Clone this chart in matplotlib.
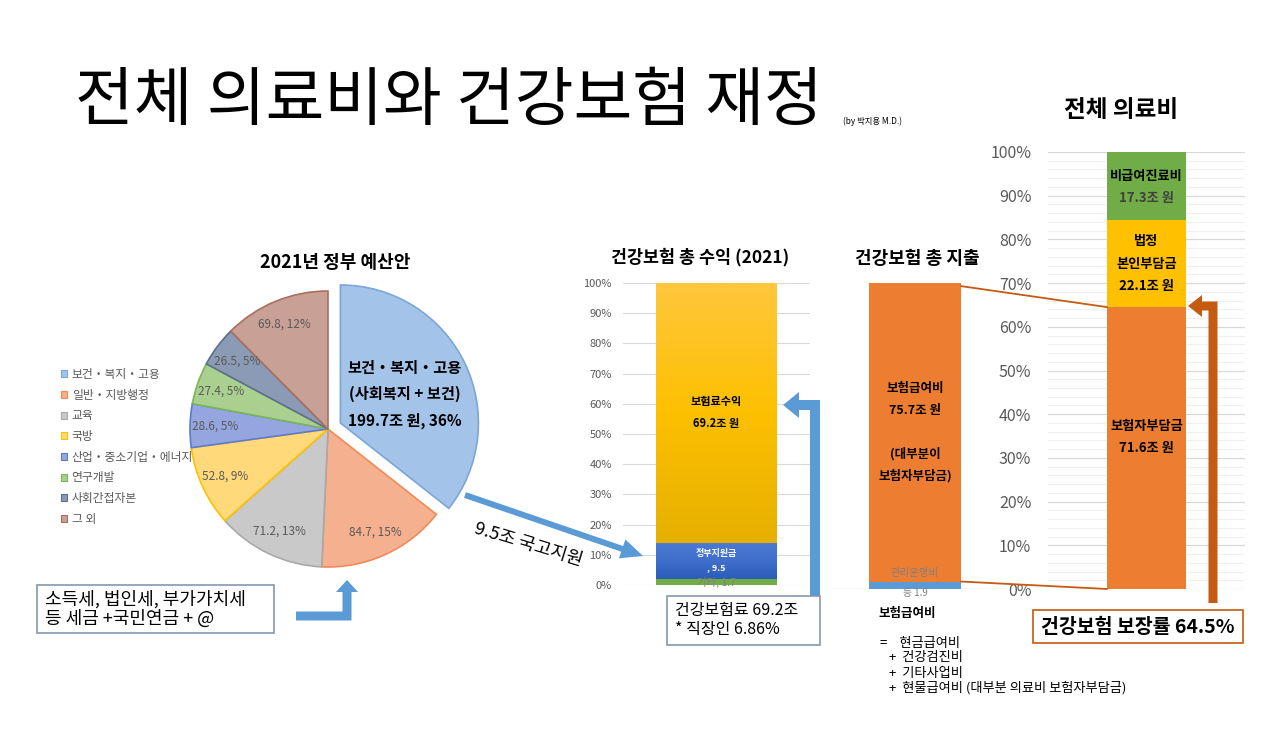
import matplotlib
matplotlib.use('Agg')
import matplotlib.pyplot as plt
import numpy as np
from matplotlib.patches import Polygon, Rectangle, ConnectionPatch, FancyArrow
from matplotlib.colors import LinearSegmentedColormap

plt.rcParams['font.family'] = ['Noto Sans CJK KR', 'DejaVu Sans']

# ---------------- data ----------------
budget_categories = ['보건・복지・고용', '일반・지방행정', '교육', '국방',
                     '산업・중소기업・에너지', '연구개발', '사회간접자본', '그 외']
budget_values = [199.7, 84.7, 71.2, 52.8, 28.6, 27.4, 26.5, 69.8]

revenue_categories = ['기타', '정부지원금', '보험료수익']
revenue_values = [1.7, 9.5, 69.2]

expend_categories = ['관리운영비 등', '보험급여비']
expend_values = [1.9, 75.7]

medical_categories = ['보험자부담금', '법정 본인부담금', '비급여진료비']
medical_values = [71.6, 22.1, 17.3]

pct_ticks = [0, 10, 20, 30, 40, 50, 60, 70, 80, 90, 100]

# ---------------- figure ----------------
W, H = 1268, 740
fig = plt.figure(figsize=(W / 100, H / 100), dpi=100)
fig.patch.set_facecolor('white')


def px_axes(x0, y0, x1, y1):
    return fig.add_axes([x0 / W, 1 - y1 / H, (x1 - x0) / W, (y1 - y0) / H])


def gradient_fill(ax, rect, colors):
    x, y = rect.get_x(), rect.get_y()
    w, h = rect.get_width(), rect.get_height()
    grad = np.linspace(0, 1, 256).reshape(-1, 1)
    cmap = LinearSegmentedColormap.from_list('g', colors)
    im = ax.imshow(grad, extent=[x, x + w, y, y + h], origin='lower', cmap=cmap,
                   aspect='auto', zorder=rect.get_zorder() + 0.1)
    im.set_clip_path(rect)


GRAY_TXT = '#595959'

# ---------------- pie ----------------
cx, cy, R = 328, 429, 138
axp = px_axes(cx - 1.25 * R, cy - 1.25 * R, cx + 1.25 * R, cy + 1.25 * R)
pie_face = ['#a4c3e8', '#f5b08f', '#c9c9c9', '#ffd97a', '#95a6df', '#a9d08e', '#8c9bb5', '#c8a096']
pie_edge = ['#7aa6d8', '#f08a58', '#a9a9a9', '#ffc000', '#5b7bd0', '#7cb55a', '#5d6f8d', '#a9705f']
explode = [0.1] + [0] * (len(budget_values) - 1)
wedges, _ = axp.pie(budget_values, colors=pie_face, startangle=90, counterclock=False,
                    explode=explode, radius=1, wedgeprops=dict(linewidth=1.2))
for w, ec in zip(wedges, pie_edge):
    w.set_edgecolor(ec)
axp.set_xlim(-1.25, 1.25)
axp.set_ylim(-1.25, 1.25)
axp.set_aspect('equal')
axp.set_axis_off()

total_budget = sum(budget_values)
for i, (w, v) in enumerate(zip(wedges, budget_values)):
    mid = np.deg2rad((w.theta1 + w.theta2) / 2)
    c0, c1 = w.center
    pct = round(v / total_budget * 100)
    if i == 0:
        r = 0.52
        axp.text(c0 + r * np.cos(mid), c1 + r * np.sin(mid) - 0.02,
                 f'보건・복지・고용\n(사회복지 + 보건)\n{v}조 원, {pct}%',
                 ha='center', va='center', fontsize=11, fontweight='bold',
                 linespacing=1.8, color='black')
    else:
        r = 0.82
        axp.text(c0 + r * np.cos(mid), c1 + r * np.sin(mid), f'{v}, {pct}%',
                 ha='center', va='center', fontsize=8.5, color=GRAY_TXT)

handles = [Rectangle((0, 0), 1, 1, facecolor=f, edgecolor=e, lw=0.8)
           for f, e in zip(pie_face, pie_edge)]
fig.legend(handles, budget_categories, loc='upper left',
           bbox_to_anchor=(60.5 / W, 1 - 368 / H), frameon=False, fontsize=8.5,
           labelcolor=GRAY_TXT, handlelength=0.55, handleheight=0.55,
           handletextpad=0.4, labelspacing=0.65, borderpad=0, borderaxespad=0)

# ---------------- revenue bar ----------------
axr = px_axes(623, 283, 810, 585)
rev_total = sum(revenue_values)
rev_pct = [v / rev_total * 100 for v in revenue_values]
rev_colors = ['#70ad47', '#3a69c6', '#fcc10e']
bottom = 0
rev_bars = []
for p, c in zip(rev_pct, rev_colors):
    b = axr.bar(0, p, bottom=bottom, width=0.647, color=c, zorder=2)[0]
    rev_bars.append(b)
    bottom += p
gradient_fill(axr, rev_bars[1], ['#2c5cba', '#3f6fcc', '#4a7ad2'])
gradient_fill(axr, rev_bars[2], ['#e6b000', '#fdc000', '#ffc73d'])
axr.set_xlim(-0.5, 0.5)
axr.set_ylim(0, 100)
axr.set_yticks(pct_ticks)
axr.set_yticklabels([f'{t}%' for t in pct_ticks])
axr.tick_params(axis='y', length=0, labelsize=8, labelcolor=GRAY_TXT, pad=8)
axr.set_xticks([])
axr.yaxis.grid(True, color='#d9d9d9', lw=0.8)
axr.set_axisbelow(True)
for s in axr.spines.values():
    s.set_visible(False)
b0, b1, b2 = rev_bars
axr.text(0, b2.get_y() + b2.get_height() / 2,
         f'{revenue_categories[2]}\n{revenue_values[2]}조 원', ha='center', va='center',
         fontsize=8, fontweight='bold', linespacing=1.9, zorder=5)
axr.text(0, b1.get_y() + b1.get_height() / 2,
         f'{revenue_categories[1]}\n, {revenue_values[1]}', ha='center', va='center',
         fontsize=6.5, fontweight='bold', color='white', linespacing=1.8, zorder=5)
axr.text(0, b0.get_y() + b0.get_height() / 2 - 0.3,
         f'{revenue_categories[0]}, {revenue_values[0]}', ha='center', va='center',
         fontsize=7.5, color='#7f7f7f', zorder=5)

# ---------------- expenditure bar (same scale as total medical) ----------------
med_total = sum(medical_values)
axe = px_axes(830, 152, 1003, 589)
exp_pct = [v / med_total * 100 for v in expend_values]
exp_colors = ['#5b9bd5', '#ed7d31']
bottom = 0
exp_bars = []
for p, c in zip(exp_pct, exp_colors):
    b = axe.bar(85, p, bottom=bottom, width=92, color=c, zorder=2)[0]
    exp_bars.append(b)
    bottom += p
axe.axhline(0, color='#d9d9d9', lw=1, zorder=1)
axe.set_xlim(0, 173)
axe.set_ylim(0, 100)
axe.set_axis_off()
eb0, eb1 = exp_bars
axe.text(85, eb1.get_y() + eb1.get_height() / 2,
         f'{expend_categories[1]}\n{expend_values[1]}조 원\n\n(대부분이\n보험자부담금)',
         ha='center', va='center', fontsize=9, fontweight='bold', linespacing=1.85, zorder=5)
axe.text(85, eb0.get_height() + 2.0, '관리운영비', ha='center', va='center',
         fontsize=7.5, color='#7f7f7f', zorder=5)
axe.text(85, -0.9, f'등 {expend_values[0]}', ha='center', va='center',
         fontsize=7, color='#7f7f7f', zorder=5, clip_on=False)

# ---------------- total medical expense bar ----------------
axm = px_axes(1048, 152, 1245, 589)
med_pct = [v / med_total * 100 for v in medical_values]
med_colors = ['#ed7d31', '#ffc000', '#70ad47']
bottom = 0
med_bars = []
for p, c in zip(med_pct, med_colors):
    b = axm.bar(0, p, bottom=bottom, width=0.40, color=c, zorder=2)[0]
    med_bars.append(b)
    bottom += p
axm.set_xlim(-0.5, 0.5)
axm.set_ylim(0, 100)
axm.set_yticks(pct_ticks)
axm.set_yticklabels([f'{t}%' for t in pct_ticks])
axm.set_yticks(np.arange(0, 101, 2), minor=True)
axm.tick_params(axis='y', which='both', length=0, labelsize=11.5, labelcolor=GRAY_TXT, pad=12)
axm.set_xticks([])
axm.yaxis.grid(True, which='minor', color='#f0f0f0', lw=0.8)
axm.yaxis.grid(True, which='major', color='#d9d9d9', lw=0.9)
axm.set_axisbelow(True)
for s in axm.spines.values():
    s.set_visible(False)
mb0, mb1, mb2 = med_bars
axm.text(0, mb0.get_y() + mb0.get_height() / 2 + 2.5,
         f'{medical_categories[0]}\n{medical_values[0]}조 원', ha='center', va='center',
         fontsize=9.5, fontweight='bold', linespacing=1.75, zorder=5)
axm.text(0, mb1.get_y() + mb1.get_height() / 2,
         f'법정\n본인부담금\n{medical_values[1]}조 원', ha='center', va='center',
         fontsize=9.5, fontweight='bold', linespacing=1.75, zorder=5)
axm.text(0, mb2.get_y() + mb2.get_height() / 2 + 2.2, medical_categories[2],
         ha='center', va='center', fontsize=9.5, fontweight='bold', zorder=5)
axm.text(0, mb2.get_y() + mb2.get_height() / 2 - 2.8, f'{medical_values[2]}조 원',
         ha='center', va='center', fontsize=9.5, fontweight='bold', color='#404040', zorder=5)

coverage = medical_values[0] / med_total * 100

# connector lines between expenditure bar and medical bar
for ya, yb in [(eb1.get_y() + eb1.get_height() - 0.6, mb0.get_height()),
               (eb0.get_height(), 0)]:
    con = ConnectionPatch(xyA=(eb1.get_x() + eb1.get_width(), ya), coordsA=axe.transData,
                          xyB=(mb0.get_x(), yb), coordsB=axm.transData,
                          color='#c55a11', lw=1.3, zorder=6)
    fig.add_artist(con)

# ---------------- overlay: titles, boxes, arrows ----------------
ov = fig.add_axes([0, 0, 1, 1])
ov.set_xlim(0, W)
ov.set_ylim(H, 0)
ov.set_axis_off()
ov.patch.set_alpha(0)

ov.text(75, 102, '전체 의료비와 건강보험 재정', fontsize=46, ha='left', va='center')
ov.text(843, 121, '(by 박지용 M.D.)', fontsize=6, ha='left', va='center')
ov.text(335, 262, '2021년 정부 예산안', fontsize=13, fontweight='bold', ha='center', va='center')
ov.text(700, 257, '건강보험 총 수익 (2021)', fontsize=12.5, fontweight='bold', ha='center', va='center')
ov.text(917, 258, '건강보험 총 지출', fontsize=13, fontweight='bold', ha='center', va='center')
ov.text(1121, 110, '전체 의료비', fontsize=17, fontweight='bold', ha='center', va='center')

BLUE = '#5b9bd5'
BROWN = '#c55a11'

# box: taxes
ov.add_patch(Rectangle((37, 585), 237, 48, facecolor='white', edgecolor='#8497b0', lw=1.2, zorder=3))
ov.text(45, 609, '소득세, 법인세, 부가가치세\n등 세금 +국민연금 + @', fontsize=13,
        ha='left', va='center', linespacing=1.1, zorder=4)

# elbow arrow right-then-up (taxes -> budget)
xv, yh, w_, hw = 347, 616, 9, 22
ov.add_patch(Polygon([(296, yh + w_ / 2), (xv + w_ / 2, yh + w_ / 2), (xv + w_ / 2, 592),
                      (xv + hw / 2, 592), (xv, 580), (xv - hw / 2, 592), (xv - w_ / 2, 592),
                      (xv - w_ / 2, yh - w_ / 2), (296, yh - w_ / 2)],
                     closed=True, facecolor=BLUE, edgecolor='none', zorder=3))

# diagonal arrow (health budget -> government subsidy)
ov.add_patch(FancyArrow(465, 495, 643 - 465, 556 - 495, width=6, head_width=20, head_length=22,
                        length_includes_head=True, facecolor=BLUE, edgecolor='none', zorder=3))
ov.text(528, 545, '9.5조 국고지원', fontsize=13, rotation=-17, ha='center', va='center',
        rotation_mode='anchor')


# elbow arrow up-then-left
def up_left_arrow(xv, yb, yt, xtip, w, hl, hw, color):
    xh = xtip + hl
    pts = [(xv + w / 2, yb), (xv + w / 2, yt - w / 2), (xh, yt - w / 2), (xh, yt - hw / 2),
           (xtip, yt), (xh, yt + hw / 2), (xh, yt + w / 2), (xv - w / 2, yt + w / 2),
           (xv - w / 2, yb)]
    ov.add_patch(Polygon(pts, closed=True, facecolor=color, edgecolor='none', zorder=3))


up_left_arrow(815, 598, 405, 783, 10, 16, 26, BLUE)
up_left_arrow(1213, 603, 306, 1188, 9, 14, 22, BROWN)

# box: premiums
ov.add_patch(Rectangle((667, 596), 153, 49, facecolor='white', edgecolor='#8497b0', lw=1.2, zorder=4))
ov.text(675, 620, f'건강보험료 {revenue_values[2]}조\n* 직장인 6.86%', fontsize=11.5,
        ha='left', va='center', linespacing=1.1, zorder=5)

# box: coverage
ov.add_patch(Rectangle((1033, 610), 210, 33, facecolor='white', edgecolor=BROWN, lw=1.2, zorder=4))
ov.text(1138, 627, f'건강보험 보장률 {coverage:.1f}%', fontsize=14, fontweight='bold',
        ha='center', va='center', zorder=5)

# explanation text
ov.text(878, 613, '보험급여비', fontsize=9, fontweight='bold', ha='left', va='center')
ov.text(880, 643, '=    현금급여비', fontsize=9.5, ha='left', va='center')
ov.text(889, 658, '+  건강검진비', fontsize=9.5, ha='left', va='center')
ov.text(889, 673, '+  기타사업비', fontsize=9.5, ha='left', va='center')
ov.text(889, 688, '+  현물급여비 (대부분 의료비 보험자부담금)', fontsize=9.5, ha='left', va='center')

fig.savefig('out.png', dpi=100, facecolor='white')
